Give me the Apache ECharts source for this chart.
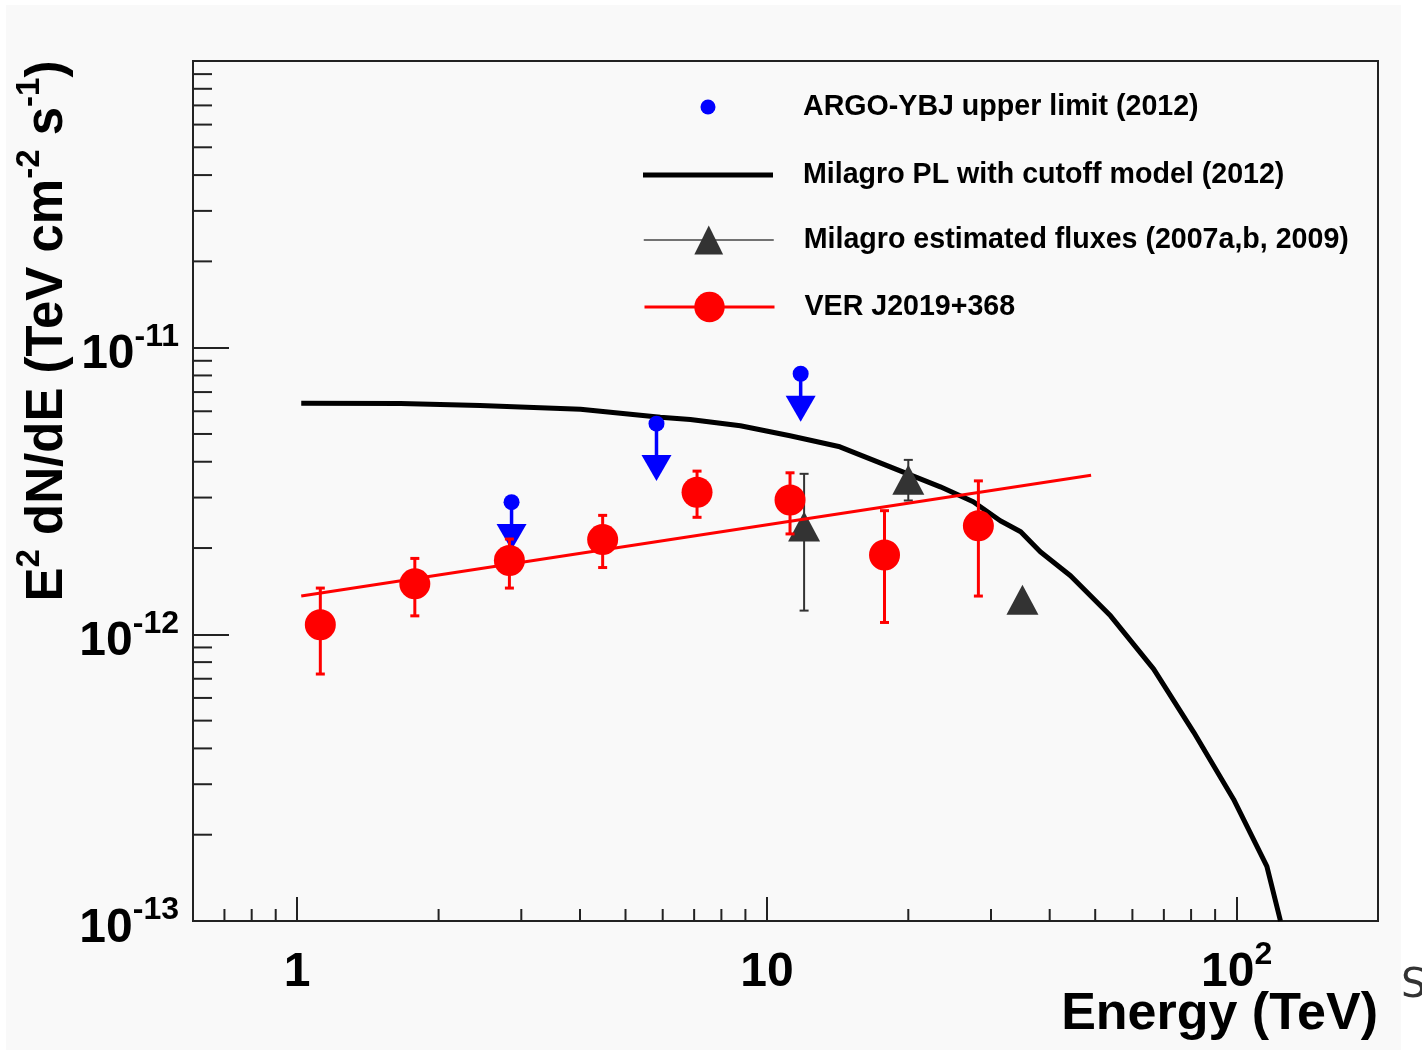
<!DOCTYPE html>
<html>
<head>
<meta charset="utf-8">
<script src="https://cdn.jsdelivr.net/npm/echarts@6/dist/echarts.min.js"></script>
<style>
  html, body { margin: 0; padding: 0; background: #ffffff; }
  #chart { width: 1422px; height: 1057px; }
</style>
</head>
<body>
<div id="chart"></div>
<script>
// ---- Spectral data (energy in TeV, E^2 dN/dE in TeV cm^-2 s^-1) ----

// VERITAS spectral points with 1-sigma errors
const energyVER     = [1.12, 1.78, 2.83, 4.47, 7.10, 11.2, 17.8, 28.2];
const fluxVER       = [1.08e-12, 1.50e-12, 1.81e-12, 2.14e-12, 3.13e-12, 2.94e-12, 1.89e-12, 2.39e-12];
const fluxVERLow    = [7.27e-13, 1.16e-12, 1.45e-12, 1.71e-12, 2.56e-12, 2.24e-12, 1.10e-12, 1.36e-12];
const fluxVERHigh   = [1.45e-12, 1.84e-12, 2.15e-12, 2.60e-12, 3.71e-12, 3.66e-12, 2.70e-12, 3.43e-12];

// Power-law fit to the VERITAS points (end points of the fitted range)
const fitEnergy = [1.02, 49.0];
const fitFlux   = [1.36e-12, 3.59e-12];

// Milagro power law with exponential cutoff
const modelEnergy = [1.02, 1.66, 2.45, 4.01, 5.93, 6.87, 8.78, 11.2, 14.3, 18.3, 23.4,
                     27.5, 31.4, 34.7, 38.2, 44.3, 53.9, 66.6, 81.0, 98.5, 116, 124];
const modelFlux   = [6.40e-12, 6.38e-12, 6.28e-12, 6.10e-12, 5.72e-12, 5.62e-12, 5.34e-12,
                     4.93e-12, 4.51e-12, 3.84e-12, 3.27e-12, 2.90e-12, 2.49e-12, 2.28e-12,
                     1.94e-12, 1.60e-12, 1.16e-12, 7.56e-13, 4.56e-13, 2.66e-13, 1.55e-13, 1.0e-13];

// Milagro flux estimates (the 35 TeV point has no error bar)
const energyMilagro   = [12.0, 20.0, 35.0];
const fluxMilagro     = [2.38e-12, 3.46e-12, 1.32e-12];
const fluxMilagroLow  = [1.21e-12, 2.93e-12];
const fluxMilagroHigh = [3.63e-12, 4.06e-12];

// ARGO-YBJ upper limits and the flux where each arrow ends
const energyARGO   = [2.86, 5.82, 11.8];
const upperARGO    = [2.89e-12, 5.43e-12, 8.11e-12];
const arrowEndARGO = [1.97e-12, 3.43e-12, 5.51e-12];

// Axis tick values
const xMinorTicks = [0.7, 0.8, 0.9, 2, 3, 4, 5, 6, 7, 8, 9, 20, 30, 40, 50, 60, 70, 80, 90];
const yMinorTicks = [2e-13, 3e-13, 4e-13, 5e-13, 6e-13, 7e-13, 8e-13, 9e-13,
                     2e-12, 3e-12, 4e-12, 5e-12, 6e-12, 7e-12, 8e-12, 9e-12,
                     2e-11, 3e-11, 4e-11, 5e-11, 6e-11, 7e-11, 8e-11, 9e-11];

// Series names
const NAME_ARGO = 'ARGO-YBJ upper limit (2012)';
const NAME_PL   = 'Milagro PL with cutoff model (2012)';
const NAME_MIL  = 'Milagro estimated fluxes (2007a,b, 2009)';
const NAME_VER  = 'VER J2019+368';

const FONT = '"Liberation Sans", Arial, Helvetica, sans-serif';
const FRAME = '#222222';

const tickRich = {
  m: { fontFamily: FONT, fontWeight: 'bold', fontSize: 48, lineHeight: 66, color: '#000' },
  s: { fontFamily: FONT, fontWeight: 'bold', fontSize: 32, lineHeight: 30, padding: [0, 0, 36, 0], color: '#000' }
};

function powerLabel(v) {
  const e = Math.round(Math.log10(v));
  if (e === 0) return '{m|1}';
  if (e === 1) return '{m|10}';
  return '{m|10}{s|' + e + '}';
}

function errorBars(capHalf, width, color) {
  return function (params, api) {
    const e = api.value(0);
    const pLo = api.coord([e, api.value(1)]);
    const pHi = api.coord([e, api.value(2)]);
    const style = { stroke: color, lineWidth: width };
    return {
      type: 'group',
      children: [
        { type: 'line', shape: { x1: pLo[0], y1: pLo[1], x2: pHi[0], y2: pHi[1] }, style: style },
        { type: 'line', shape: { x1: pHi[0] - capHalf, y1: pHi[1], x2: pHi[0] + capHalf, y2: pHi[1] }, style: style },
        { type: 'line', shape: { x1: pLo[0] - capHalf, y1: pLo[1], x2: pLo[0] + capHalf, y2: pLo[1] }, style: style }
      ]
    };
  };
}

function upperLimit(params, api) {
  const e = api.value(0);
  const p = api.coord([e, api.value(1)]);
  const tip = api.coord([e, api.value(2)]);
  const headH = 26, headHalf = 15;
  const color = '#0000ff';
  return {
    type: 'group',
    children: [
      { type: 'line', shape: { x1: p[0], y1: p[1], x2: tip[0], y2: tip[1] - headH + 2 },
        style: { stroke: color, lineWidth: 3.5 } },
      { type: 'polygon', shape: { points: [[tip[0] - headHalf, tip[1] - headH], [tip[0] + headHalf, tip[1] - headH], [tip[0], tip[1]]] },
        style: { fill: color } },
      { type: 'circle', shape: { cx: p[0], cy: p[1], r: 8 }, style: { fill: color } }
    ]
  };
}

function xMinorTick(params, api) {
  const cs = params.coordSys;
  const x = api.coord([api.value(0), 1e-12])[0];
  const y0 = cs.y + cs.height;
  return { type: 'line', shape: { x1: x, y1: y0, x2: x, y2: y0 - 12 }, style: { stroke: FRAME, lineWidth: 2 } };
}

function yMinorTick(params, api) {
  const cs = params.coordSys;
  const y = api.coord([1, api.value(1)])[1];
  const x0 = cs.x;
  return { type: 'line', shape: { x1: x0, y1: y, x2: x0 + 19, y2: y }, style: { stroke: FRAME, lineWidth: 2 } };
}

const legendText = {
  fontFamily: FONT, fontWeight: 'bold', fontSize: 28.6, color: '#000',
  lineHeight: 40, padding: [0, 0, 0, 25]
};
// The legend box is placed by its drawn extent, so a legend whose icon is a
// small centred dot starts where the dot starts.
function legendBlock(left, top, itemHeight, item) {
  return {
    left: left, top: top, padding: 0, itemWidth: 130, itemHeight: itemHeight,
    selectedMode: false, textStyle: legendText, data: [item]
  };
}

const chart = echarts.init(document.getElementById('chart'), null, { renderer: 'canvas' });

chart.setOption({
  animation: false,
  backgroundColor: '#ffffff',
  grid: {
    left: 193, top: 61, width: 1185, height: 860,
    show: true, borderColor: FRAME, borderWidth: 2, backgroundColor: 'transparent',
    containLabel: false, outerBoundsMode: 'none'
  },
  xAxis: {
    type: 'log', logBase: 10, min: 0.6, max: 200,
    axisLine: { show: true, onZero: false, lineStyle: { color: FRAME, width: 2 } },
    axisTick: { show: true, inside: true, length: 24, lineStyle: { color: FRAME, width: 2 } },
    axisLabel: { formatter: powerLabel, rich: tickRich, margin: 19, showMinLabel: false, showMaxLabel: false },
    splitLine: { show: false }
  },
  yAxis: {
    type: 'log', logBase: 10, min: 1e-13, max: 1e-10,
    axisLine: { show: true, onZero: false, lineStyle: { color: FRAME, width: 2 } },
    axisTick: { show: true, inside: true, length: 36, lineStyle: { color: FRAME, width: 2 } },
    axisLabel: { formatter: powerLabel, rich: tickRich, margin: 14, padding: [15, 0, 0, 0], showMaxLabel: false },
    splitLine: { show: false }
  },
  legend: [
    legendBlock(700.5, 87, 15, { name: NAME_ARGO, icon: 'circle', itemStyle: { color: '#0000ff' } }),
    legendBlock(643, 155, 5, { name: NAME_PL, icon: 'rect', itemStyle: { color: '#000000' } }),
    legendBlock(643, 220, 36, { name: NAME_MIL, lineStyle: { color: '#444444', width: 1.5, opacity: 1 } }),
    legendBlock(643, 287, 38, { name: NAME_VER, lineStyle: { color: '#ff0000', width: 3, opacity: 1 } })
  ],
  graphic: [
    { type: 'rect', z: -10, silent: true, shape: { x: 6, y: 5, width: 1395, height: 1045 }, style: { fill: '#f9f9f9' } },
    { type: 'text', x: 48, y: 331, rotation: Math.PI / 2, silent: true,
      style: {
        text: '{m|E}{s|2}{m| dN/dE (TeV cm}{s|-2}{m| s}{s|-1}{m|)}',
        align: 'center', verticalAlign: 'middle',
        rich: {
          m: { fontFamily: FONT, fontWeight: 'bold', fontSize: 51, lineHeight: 66, fill: '#000' },
          s: { fontFamily: FONT, fontWeight: 'bold', fontSize: 33, lineHeight: 30, padding: [0, 0, 36, 0], fill: '#000' }
        }
      } },
    { type: 'text', x: 1378, y: 1015, silent: true,
      style: { text: 'Energy (TeV)', fontFamily: FONT, fontWeight: 'bold', fontSize: 52, fill: '#000', align: 'right', verticalAlign: 'middle' } },
    { type: 'text', x: 1401, y: 987, silent: true,
      style: { text: 'S', fontFamily: '"DejaVu Sans", sans-serif', fontSize: 40, fill: '#333', align: 'left', verticalAlign: 'middle' } }
  ],
  series: [
    {
      name: NAME_PL, type: 'line', z: 2, color: '#000000',
      data: modelEnergy.map((e, i) => [e, modelFlux[i]]),
      symbol: 'none', lineStyle: { color: '#000000', width: 5, join: 'round' },
      emphasis: { disabled: true }
    },
    {
      name: NAME_ARGO, type: 'custom', z: 3, color: '#0000ff',
      data: energyARGO.map((e, i) => [e, upperARGO[i], arrowEndARGO[i]]),
      encode: { x: 0, y: [1, 2] },
      renderItem: upperLimit
    },
    {
      name: 'Milagro errors', type: 'custom', z: 4, silent: true,
      data: fluxMilagroLow.map((lo, i) => [energyMilagro[i], lo, fluxMilagroHigh[i]]),
      encode: { x: 0, y: [1, 2] },
      renderItem: errorBars(4.5, 2, '#333333')
    },
    {
      name: NAME_MIL, type: 'line', z: 5, color: '#333333',
      data: energyMilagro.map((e, i) => [e, fluxMilagro[i]]),
      symbol: 'triangle', symbolSize: [32, 30], showSymbol: true,
      itemStyle: { color: '#333333' },
      lineStyle: { opacity: 0, width: 1 },
      emphasis: { disabled: true }
    },
    {
      name: 'VER fit', type: 'line', z: 6, color: '#ff0000',
      data: fitEnergy.map((e, i) => [e, fitFlux[i]]),
      symbol: 'none', lineStyle: { color: '#ff0000', width: 3 },
      emphasis: { disabled: true }
    },
    {
      name: 'VER errors', type: 'custom', z: 7, silent: true,
      data: energyVER.map((e, i) => [e, fluxVERLow[i], fluxVERHigh[i]]),
      encode: { x: 0, y: [1, 2] },
      renderItem: errorBars(4.5, 3, '#ff0000')
    },
    {
      name: NAME_VER, type: 'line', z: 8, color: '#ff0000',
      data: energyVER.map((e, i) => [e, fluxVER[i]]),
      symbol: 'circle', symbolSize: 31, showSymbol: true,
      itemStyle: { color: '#ff0000' },
      lineStyle: { opacity: 0, width: 3 },
      emphasis: { disabled: true }
    },
    {
      name: 'x minor ticks', type: 'custom', z: 9, silent: true,
      data: xMinorTicks.map(v => [v, 1e-12]),
      encode: { x: 0, y: 1 },
      renderItem: xMinorTick
    },
    {
      name: 'y minor ticks', type: 'custom', z: 9, silent: true,
      data: yMinorTicks.map(v => [1, v]),
      encode: { x: 0, y: 1 },
      renderItem: yMinorTick
    }
  ]
});
</script>
</body>
</html>
